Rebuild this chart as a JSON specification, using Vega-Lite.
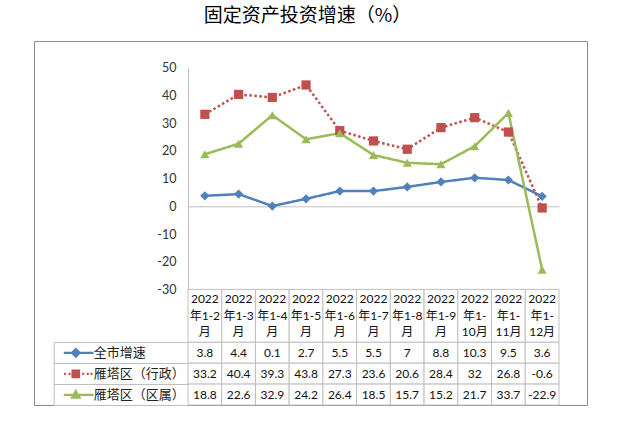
{
  "$schema": "https://vega.github.io/schema/vega-lite/v6.json",
  "width": 553,
  "height": 364,
  "autosize": {"type": "none"},
  "padding": {"left": 34, "top": 41, "right": 55, "bottom": 17},
  "title": {"text": "固定资产投资增速（%）", "font": "'Noto Sans CJK SC'", "fontSize": 19, "fontWeight": "normal", "color": "#000000", "offset": 15, "dx": -3, "anchor": "middle"},
  "config": {
    "view": {"stroke": "#8c8c8c", "strokeWidth": 1},
    "locale": {"number": {"decimal": ".", "thousands": ",", "grouping": [3], "currency": ["", ""], "minus": "-"}},
    "axis": {"labelFont": "Lato", "labelFontSize": 12.5, "labelColor": "#333333", "domainColor": "#bfbfbf", "tickColor": "#bfbfbf", "grid": false, "title": null}
  },
  "datasets": {
    "months": [
      {"month": "2022年1-2月", "hdr": "2022\n年1-2\n月"},
      {"month": "2022年1-3月", "hdr": "2022\n年1-3\n月"},
      {"month": "2022年1-4月", "hdr": "2022\n年1-4\n月"},
      {"month": "2022年1-5月", "hdr": "2022\n年1-5\n月"},
      {"month": "2022年1-6月", "hdr": "2022\n年1-6\n月"},
      {"month": "2022年1-7月", "hdr": "2022\n年1-7\n月"},
      {"month": "2022年1-8月", "hdr": "2022\n年1-8\n月"},
      {"month": "2022年1-9月", "hdr": "2022\n年1-9\n月"},
      {"month": "2022年1-10月", "hdr": "2022\n年1-\n10月"},
      {"month": "2022年1-11月", "hdr": "2022\n年1-\n11月"},
      {"month": "2022年1-12月", "hdr": "2022\n年1-\n12月"}
    ],
    "growth": [
      {"month": "2022年1-2月", "series": "全市增速", "value": 3.8},
      {"month": "2022年1-3月", "series": "全市增速", "value": 4.4},
      {"month": "2022年1-4月", "series": "全市增速", "value": 0.1},
      {"month": "2022年1-5月", "series": "全市增速", "value": 2.7},
      {"month": "2022年1-6月", "series": "全市增速", "value": 5.5},
      {"month": "2022年1-7月", "series": "全市增速", "value": 5.5},
      {"month": "2022年1-8月", "series": "全市增速", "value": 7},
      {"month": "2022年1-9月", "series": "全市增速", "value": 8.8},
      {"month": "2022年1-10月", "series": "全市增速", "value": 10.3},
      {"month": "2022年1-11月", "series": "全市增速", "value": 9.5},
      {"month": "2022年1-12月", "series": "全市增速", "value": 3.6},
      {"month": "2022年1-2月", "series": "雁塔区（行政）", "value": 33.2},
      {"month": "2022年1-3月", "series": "雁塔区（行政）", "value": 40.4},
      {"month": "2022年1-4月", "series": "雁塔区（行政）", "value": 39.3},
      {"month": "2022年1-5月", "series": "雁塔区（行政）", "value": 43.8},
      {"month": "2022年1-6月", "series": "雁塔区（行政）", "value": 27.3},
      {"month": "2022年1-7月", "series": "雁塔区（行政）", "value": 23.6},
      {"month": "2022年1-8月", "series": "雁塔区（行政）", "value": 20.6},
      {"month": "2022年1-9月", "series": "雁塔区（行政）", "value": 28.4},
      {"month": "2022年1-10月", "series": "雁塔区（行政）", "value": 32},
      {"month": "2022年1-11月", "series": "雁塔区（行政）", "value": 26.8},
      {"month": "2022年1-12月", "series": "雁塔区（行政）", "value": -0.6},
      {"month": "2022年1-2月", "series": "雁塔区（区属）", "value": 18.8},
      {"month": "2022年1-3月", "series": "雁塔区（区属）", "value": 22.6},
      {"month": "2022年1-4月", "series": "雁塔区（区属）", "value": 32.9},
      {"month": "2022年1-5月", "series": "雁塔区（区属）", "value": 24.2},
      {"month": "2022年1-6月", "series": "雁塔区（区属）", "value": 26.4},
      {"month": "2022年1-7月", "series": "雁塔区（区属）", "value": 18.5},
      {"month": "2022年1-8月", "series": "雁塔区（区属）", "value": 15.7},
      {"month": "2022年1-9月", "series": "雁塔区（区属）", "value": 15.2},
      {"month": "2022年1-10月", "series": "雁塔区（区属）", "value": 21.7},
      {"month": "2022年1-11月", "series": "雁塔区（区属）", "value": 33.7},
      {"month": "2022年1-12月", "series": "雁塔区（区属）", "value": -22.9}
    ]
  },
  "encoding": {
    "x": {
      "field": "month", "type": "nominal",
      "scale": {"domain": ["2022年1-2月","2022年1-3月","2022年1-4月","2022年1-5月","2022年1-6月","2022年1-7月","2022年1-8月","2022年1-9月","2022年1-10月","2022年1-11月","2022年1-12月"], "range": [154, 525], "paddingInner": 0, "paddingOuter": 0},
      "axis": {"orient": "bottom", "offset": -198.7, "labels": false, "ticks": false, "domain": true, "title": null}
    }
  },
  "layer": [
    {
      "data": {"name": "growth"},
      "encoding": {
        "y": {
          "field": "value", "type": "quantitative",
          "scale": {"domain": [-30, 50], "range": [248.4, 26.8], "nice": false, "zero": false},
          "axis": {"orient": "left", "offset": -154, "values": [-30, -20, -10, 0, 10, 20, 30, 40, 50], "ticks": false, "labelPadding": 12, "domain": true, "title": null}
        },
        "color": {
          "field": "series", "type": "nominal",
          "scale": {"domain": ["全市增速", "雁塔区（行政）", "雁塔区（区属）"], "range": ["#4F81BD", "#C0504D", "#9BBB59"]},
          "legend": null
        }
      },
      "layer": [
        {
          "mark": {"type": "line", "strokeWidth": 2.5},
          "encoding": {
            "strokeDash": {"field": "series", "type": "nominal", "scale": {"domain": ["全市增速", "雁塔区（行政）", "雁塔区（区属）"], "range": [[1, 0], [2.5, 2.5], [1, 0]]}, "legend": null}
          }
        },
        {
          "mark": {"type": "point", "filled": true, "size": 85, "opacity": 1},
          "encoding": {
            "shape": {"field": "series", "type": "nominal", "scale": {"domain": ["全市增速", "雁塔区（行政）", "雁塔区（区属）"], "range": ["diamond", "square", "triangle-up"]}, "legend": null}
          }
        }
      ]
    },
    {
      "data": {"name": "months"},
      "encoding": {
        "y": {"datum": "表头", "type": "nominal", "scale": {"domain": ["表头"], "range": [248.4, 301.3], "paddingInner": 0, "paddingOuter": 0}, "axis": null}
      },
      "layer": [
        {"mark": {"type": "rect", "fill": "#ffffff", "stroke": "#bfbfbf", "strokeWidth": 1}},
        {
          "mark": {"type": "text", "font": "Lato, 'Noto Sans CJK SC'", "fontSize": 12, "lineBreak": "\n", "lineHeight": 16.5, "color": "#111111", "baseline": "middle", "dy": -16.5},
          "encoding": {"text": {"field": "hdr", "type": "nominal"}}
        }
      ]
    },
    {
      "data": {"name": "growth"},
      "encoding": {
        "y": {
          "field": "series", "type": "nominal",
          "scale": {"domain": ["全市增速", "雁塔区（行政）", "雁塔区（区属）"], "range": [301.3, 364], "paddingInner": 0, "paddingOuter": 0},
          "axis": {"orient": "left", "offset": -19.7, "labels": false, "ticks": true, "tickBand": "extent", "tickSize": -134.3, "domain": true, "title": null}
        }
      },
      "layer": [
        {"mark": {"type": "rect", "fill": "#ffffff", "stroke": "#bfbfbf", "strokeWidth": 1}},
        {
          "mark": {"type": "text", "font": "Lato, 'Noto Sans CJK SC'", "fontSize": 12, "color": "#111111", "baseline": "middle"},
          "encoding": {"text": {"field": "value", "type": "quantitative"}}
        }
      ]
    },
    {
      "data": {"values": []},
      "mark": {"type": "point", "filled": false},
      "encoding": {
        "color": {
          "field": "series", "type": "nominal",
          "scale": {"domain": ["全市增速", "雁塔区（行政）", "雁塔区（区属）"], "range": ["#4F81BD", "#C0504D", "#9BBB59"]},
          "legend": {
            "orient": "none", "legendX": 29.8, "legendY": 301.3, "title": null, "direction": "vertical",
            "symbolSize": 441, "clipHeight": 21, "rowPadding": 0, "labelOffset": 6, "padding": 0,
            "labelFont": "'Noto Sans CJK SC'", "labelFontSize": 13, "labelColor": "#222222",
            "symbolStrokeWidth": 2.2, "symbolOpacity": 1
          }
        },
        "shape": {
          "field": "series", "type": "nominal",
          "scale": {"domain": ["全市增速", "雁塔区（行政）", "雁塔区（区属）"], "range": [
            "M-1.65,0H1.69M0,-0.36L0.36,0L0,0.36L-0.36,0ZM0,-0.14L0.14,0L0,0.14L-0.14,0Z",
            "M-1.62,0H-1.43M-1.14,0H-0.95M-0.69,0H-0.5M0.61,0H0.8M1.05,0H1.24M1.4,0H1.59M-0.31,-0.31H0.31V0.31H-0.31ZM-0.1,-0.1H0.1V0.1H-0.1Z",
            "M-1.65,0H1.69M0,-0.36L0.36,0.28L-0.36,0.28ZM0,-0.12L0.12,0.15L-0.12,0.15Z"
          ]},
          "legend": {
            "orient": "none", "legendX": 29.8, "legendY": 301.3, "title": null, "direction": "vertical",
            "symbolSize": 441, "clipHeight": 21, "rowPadding": 0, "labelOffset": 6, "padding": 0,
            "labelFont": "'Noto Sans CJK SC'", "labelFontSize": 13, "labelColor": "#222222",
            "symbolStrokeWidth": 2.2, "symbolOpacity": 1
          }
        }
      }
    }
  ],
  "resolve": {"scale": {"y": "independent", "shape": "independent", "color": "independent"}, "axis": {"y": "independent"}}
}
